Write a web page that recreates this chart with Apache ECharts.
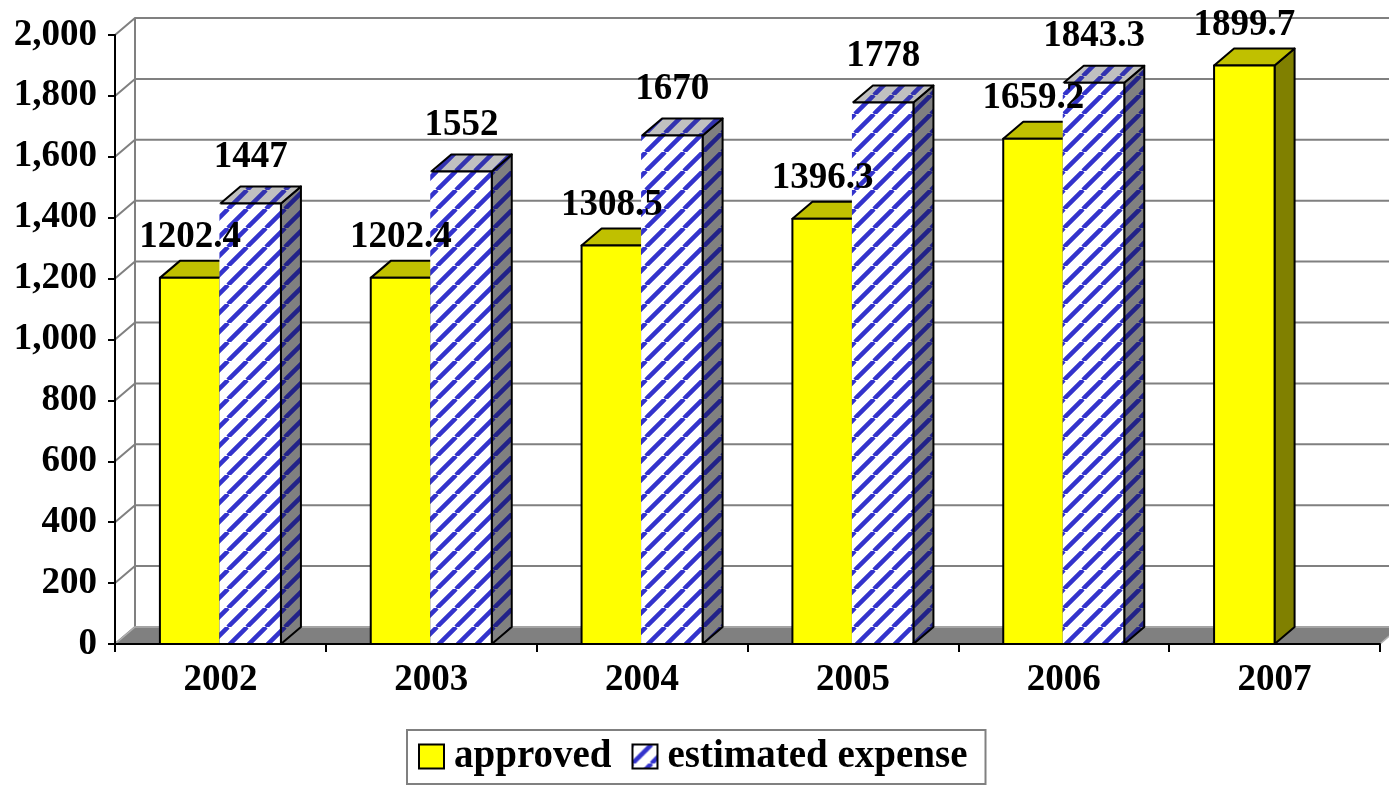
<!DOCTYPE html>
<html>
<head>
<meta charset="utf-8">
<script src="https://cdn.jsdelivr.net/npm/echarts@6/dist/echarts.min.js"></script>
<style>
  html, body { margin: 0; padding: 0; background: #fff; }
  #chart { width: 1389px; height: 786px; }
</style>
</head>
<body>
<div id="chart"></div>
<script>
// Budget figures per year
const categories = ['2002', '2003', '2004', '2005', '2006', '2007'];
const approved = [1202.4, 1202.4, 1308.5, 1396.3, 1659.2, 1899.7];
const estimatedExpense = [1447, 1552, 1670, 1778, 1843.3, null];
const yTicks = [0, 200, 400, 600, 800, 1000, 1200, 1400, 1600, 1800, 2000];

const FONT = '"Liberation Serif", "Times New Roman", serif';
// Oblique offset used for the fake 3D depth of walls, floor and boxes
const DX = 20, DY = -17;
const BAR_FRACTION = 0.287;

// Diagonal hatch tile used as a canvas pattern fill
function stripes(bg, fg, size, lw) {
  const c = document.createElement('canvas');
  c.width = c.height = size;
  const g = c.getContext('2d');
  if (bg) { g.fillStyle = bg; g.fillRect(0, 0, size, size); }
  g.strokeStyle = fg;
  g.lineWidth = lw;
  g.beginPath();
  for (const o of [-size, 0, size]) { g.moveTo(o, size); g.lineTo(o + size, 0); }
  g.stroke();
  return { image: c, repeat: 'repeat' };
}

const hatchFront = stripes('#ffffff', '#3333cc', 19, 4.5);
const hatchTop = stripes('#c0c0c0', '#3333b0', 19, 4.5);
const hatchSide = stripes('#808080', '#222288', 19, 4.5);

const yellowFaces = { front: '#ffff00', top: '#c0c000', side: '#808000', leftEdge: true };
const blueFaces = { front: hatchFront, top: hatchTop, side: hatchSide, leftEdge: false };

// Draws one box: side face, top face, then front face
function boxRenderer(faces, side) {
  return function (params, api) {
    const cat = api.value(0), val = api.value(1);
    const top = api.coord([cat, val]);
    const base = api.coord([cat, 0]);
    const w = api.size([1, 0])[0] * BAR_FRACTION;
    const x = side < 0 ? top[0] - w : top[0];
    const yT = top[1], yB = base[1];
    const edge = { stroke: '#000', lineWidth: 2, lineJoin: 'round' };
    const children = [
      { type: 'polygon', shape: { points: [[x + w, yT], [x + w + DX, yT + DY], [x + w + DX, yB + DY], [x + w, yB]] },
        style: Object.assign({ fill: faces.side }, edge) },
      { type: 'polygon', shape: { points: [[x, yT], [x + DX, yT + DY], [x + w + DX, yT + DY], [x + w, yT]] },
        style: Object.assign({ fill: faces.top }, edge) }
    ];
    if (faces.leftEdge) {
      children.push({ type: 'rect', shape: { x: x, y: yT, width: w, height: yB - yT },
        style: Object.assign({ fill: faces.front }, edge) });
    } else {
      children.push({ type: 'rect', shape: { x: x - 1, y: yT, width: w + 1, height: yB - yT },
        style: { fill: faces.front } });
      children.push({ type: 'polyline', shape: { points: [[x, yT], [x + w, yT], [x + w, yB]] },
        style: Object.assign({ fill: null }, edge) });
    }
    return { type: 'group', children: children };
  };
}

// Gridlines running along the left wall and the back wall
function wallRenderer(params, api) {
  const cs = params.coordSys;
  const v = api.value(1);
  const y = api.coord([0, v])[1];
  const x0 = cs.x;
  const xEnd = cs.x + cs.width + 60;
  const line = { stroke: '#808080', lineWidth: 2, fill: null };
  const children = [
    { type: 'polyline', shape: { points: [[x0, y], [x0 + DX, y + DY], [xEnd, y + DY]] }, style: line }
  ];
  if (params.dataIndex === 0) {
    children.push({ type: 'line', shape: { x1: x0 + DX, y1: cs.y + DY, x2: x0 + DX, y2: y + DY }, style: line });
  }
  return { type: 'group', children: children };
}

function floorRenderer(params, api) {
  const cs = params.coordSys;
  const y = api.coord([0, 0])[1];
  const x0 = cs.x, x1 = cs.x + cs.width;
  return {
    type: 'polygon',
    shape: { points: [[x0, y], [x1, y], [x1 + DX, y + DY], [x0 + DX, y + DY]] },
    style: { fill: '#808080', stroke: '#b0b0b0', lineWidth: 1.5 }
  };
}

function labelRenderer(side, lift) {
  return function (params, api) {
    const cat = api.value(0), val = api.value(1);
    const p = api.coord([cat, val]);
    const w = api.size([1, 0])[0] * BAR_FRACTION;
    return {
      type: 'text',
      x: p[0] + side * w / 2,
      y: p[1] - lift,
      style: {
        text: String(val),
        font: 'bold 37px ' + FONT,
        fill: '#000',
        align: 'center',
        verticalAlign: 'middle'
      }
    };
  };
}

const approvedData = approved.map((v, i) => [i, v]).filter(d => d[1] != null);
const estimatedData = estimatedExpense.map((v, i) => [i, v]).filter(d => d[1] != null);

const chart = echarts.init(document.getElementById('chart'), null, { renderer: 'canvas' });

chart.setOption({
  animation: false,
  backgroundColor: '#ffffff',
  grid: { left: 115, right: 9, top: 35, bottom: 142, containLabel: false },
  xAxis: {
    type: 'category',
    data: categories,
    boundaryGap: true,
    z: 6,
    axisLine: { show: true, lineStyle: { color: '#000', width: 2 } },
    axisTick: { show: true, length: 8, lineStyle: { color: '#000', width: 2 } },
    axisLabel: { interval: 0, margin: 18, color: '#000', fontFamily: FONT, fontWeight: 'bold', fontSize: 37 },
    splitLine: { show: false }
  },
  yAxis: {
    type: 'value',
    min: 0,
    max: 2000,
    interval: 200,
    z: 6,
    axisLine: { show: true, lineStyle: { color: '#000', width: 2 } },
    axisTick: { show: true, length: 7, lineStyle: { color: '#000', width: 2 } },
    axisLabel: {
      margin: 18, color: '#000', fontFamily: FONT, fontWeight: 'bold', fontSize: 37,
      formatter: v => v.toLocaleString('en-US')
    },
    splitLine: { show: false }
  },
  legend: {
    data: ['approved', 'estimated expense'],
    left: 407,
    top: 730,
    orient: 'horizontal',
    icon: 'rect',
    itemWidth: 25,
    itemHeight: 24,
    itemGap: 20,
    padding: [7, 18, 8, 11],
    borderColor: '#808080',
    borderWidth: 2,
    backgroundColor: '#fff',
    selectedMode: false,
    itemStyle: { borderColor: '#000', borderWidth: 2 },
    textStyle: { fontFamily: FONT, fontWeight: 'bold', fontSize: 39, color: '#000', lineHeight: 38, padding: [0, 0, 0, 5] }
  },
  series: [
    {
      type: 'custom', z: 1, silent: true,
      data: yTicks.map(v => [0, v]),
      encode: { x: 0, y: 1 },
      renderItem: wallRenderer
    },
    {
      type: 'custom', z: 2, silent: true,
      data: [[0, 0]],
      encode: { x: 0, y: 1 },
      renderItem: floorRenderer
    },
    {
      name: 'approved', type: 'custom', z: 3,
      data: approvedData,
      encode: { x: 0, y: 1 },
      itemStyle: { color: '#ffff00', borderColor: '#000', borderWidth: 2 },
      renderItem: boxRenderer(yellowFaces, -1)
    },
    {
      name: 'estimated expense', type: 'custom', z: 3,
      data: estimatedData,
      encode: { x: 0, y: 1 },
      itemStyle: { color: hatchFront, borderColor: '#000', borderWidth: 2 },
      renderItem: boxRenderer(blueFaces, 1)
    },
    {
      type: 'custom', z: 8, silent: true,
      data: approvedData,
      encode: { x: 0, y: 1 },
      renderItem: labelRenderer(-1, 40)
    },
    {
      type: 'custom', z: 8, silent: true,
      data: estimatedData,
      encode: { x: 0, y: 1 },
      renderItem: labelRenderer(1, 46)
    }
  ]
});
</script>
</body>
</html>
